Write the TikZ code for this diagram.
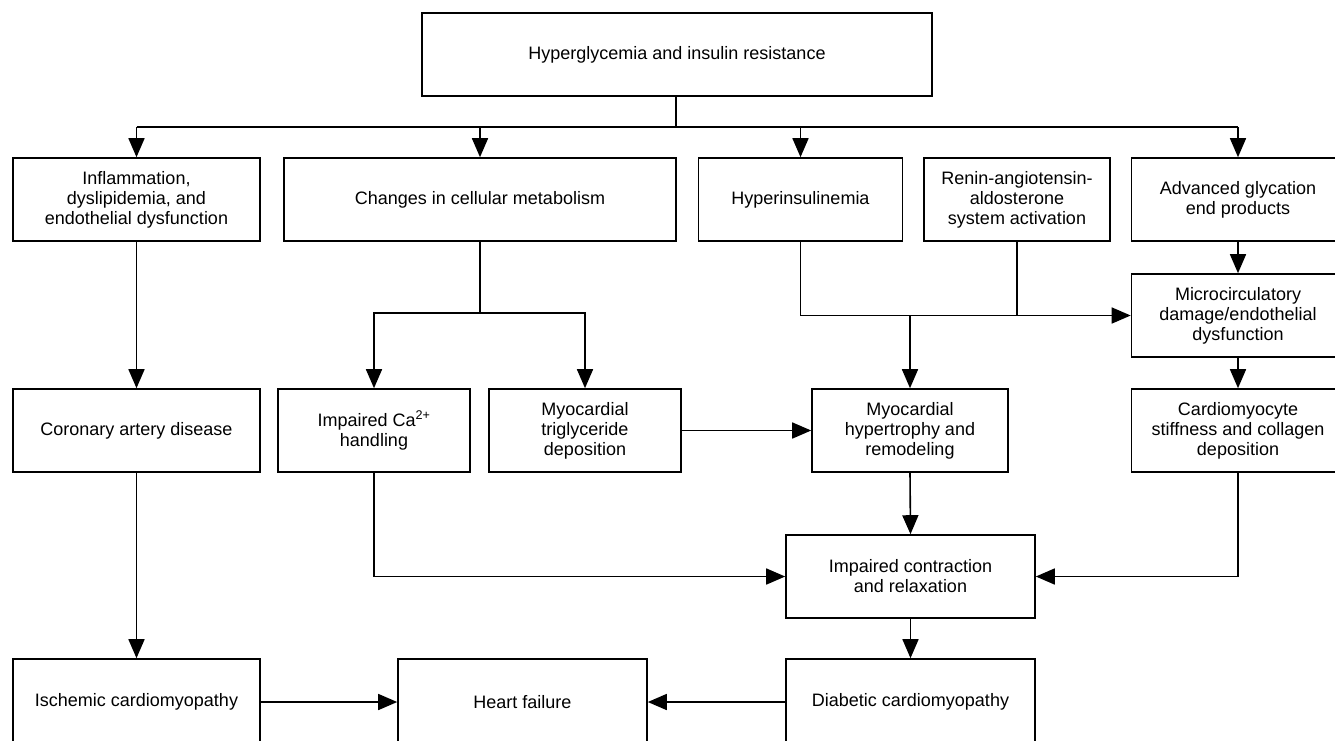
\documentclass[tikz,border=0pt]{standalone}
\usepackage{fontspec}
\setmainfont{Liberation Sans}
\usetikzlibrary{arrows.meta}

\begin{document}
\begin{tikzpicture}[x=1pt, y=-1pt, line width=1.6pt,
	box/.style={draw, align=center, inner sep=0pt, font=\fontsize{18}{20}\selectfont},
	arr/.style={-{Triangle[length=19pt, width=16pt]}}]
	\useasboundingbox (0,0) rectangle (1335,740);
	\clip (0,0) rectangle (1335,740);

	% top cause
	\node[box, minimum width=510, minimum height=83] (hyper) at (677, 54.5) {Hyperglycemia and insulin resistance};

	% first row
	\node[box, minimum width=247, minimum height=83] (infl) at (136.5, 199.5) {Inflammation,\\dyslipidemia, and\\endothelial dysfunction};
	\node[box, minimum width=392, minimum height=83] (chg) at (480, 199.5) {Changes in cellular metabolism};
	\node[box, minimum width=204, minimum height=83] (hyp) at (800.5, 199.5) {Hyperinsulinemia};
	\node[box, minimum width=186, minimum height=83] (ras) at (1017, 199.5) {Renin-angiotensin-\\aldosterone\\system activation};
	\node[box, minimum width=213, minimum height=83] (age) at (1238, 199.5) {Advanced glycation\\end products};
	\node[box, minimum width=213, minimum height=83] (micro) at (1238, 315.5) {Microcirculatory\\damage/endothelial\\dysfunction};

	% second row
	\node[box, minimum width=247, minimum height=83] (cad) at (136.5, 430.5) {Coronary artery disease};
	\node[box, minimum width=192, minimum height=83] (ca) at (374, 430.5) {Impaired Ca\textsuperscript{2+}\\handling};
	\node[box, minimum width=192, minimum height=83] (trig) at (585, 430.5) {Myocardial\\triglyceride\\deposition};
	\node[box, minimum width=196, minimum height=83] (myo) at (910, 430.5) {Myocardial\\hypertrophy and\\remodeling};
	\node[box, minimum width=213, minimum height=83] (card) at (1238, 430.5) {Cardiomyocyte\\stiffness and collagen\\deposition};

	\node[box, minimum width=249, minimum height=83] (ic) at (910.5, 576.5) {Impaired contraction\\and relaxation};

	% outcomes
	\node[box, minimum width=247, minimum height=86] (isch) at (136.5, 702) {Ischemic cardiomyopathy};
	\node[box, minimum width=249, minimum height=86] (hf) at (522.5, 702) {Heart failure};
	\node[box, minimum width=249, minimum height=86] (dcm) at (910.5, 702) {Diabetic cardiomyopathy};

	% bus from the top
	\coordinate (bus) at (676, 127);
	\draw (hyper.south -| bus) -- (bus);
	\draw (infl.north |- bus) -- (age.north |- bus);
	\foreach \n in {infl, chg, hyp, age}
		\draw[arr] (\n.north |- bus) -- (\n.north);

	% left branch
	\draw[arr] (infl.south) -- (cad.north);
	\draw[arr] (cad.south) -- (isch.north);
	\draw[arr] (isch.east) -- (hf.west);

	% metabolism split
	\coordinate (split) at (480, 313);
	\draw (chg.south) -- (split);
	\draw[arr] (split) -| (ca.north);
	\draw[arr] (split) -| (trig.north);
	\draw[arr] (trig.east) -- (myo.west);

	% hormones
	\coordinate (join) at (ras.south |- micro.west);
	\draw (hyp.south) |- (join);
	\draw (ras.south) -- (join);
	\draw[arr] (join) -- (micro.west);
	\draw[arr] (myo.north |- join) -- (myo.north);
	\draw[arr] (age.south) -- (micro.north);
	\draw[arr] (micro.south) -- (card.north);

	% towards the heart
	\draw[arr] (myo.south) -- (ic.north);
	\draw[arr] (ca.south) |- (ic.west);
	\draw[arr] (card.south) |- (ic.east);
	\draw[arr] (ic.south) -- (dcm.north);
	\draw[arr] (dcm.west) -- (hf.east);
\end{tikzpicture}
\end{document}
